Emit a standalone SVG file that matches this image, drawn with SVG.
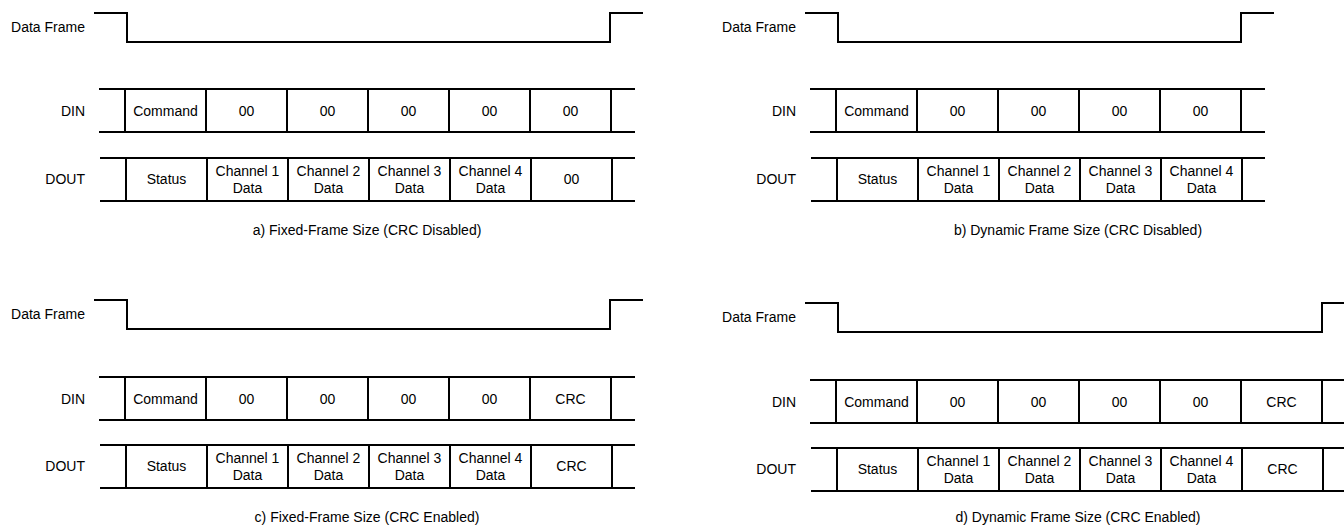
<svg xmlns="http://www.w3.org/2000/svg" width="1344" height="525" viewBox="0 0 1344 525">
<style>
  text { font-family: "Liberation Sans", Arial, sans-serif; font-size: 14px; fill: #000; }
  .c { text-anchor: middle; }
  .r { text-anchor: end; }
  .ln { stroke: #000; stroke-width: 2; fill: none; stroke-linejoin: miter; }
</style>
<rect width="1344" height="525" fill="#fff"/>

<!-- Panel a -->
<g id="panel-a">
  <g id="a-frame">
    <text class="r" x="85" y="32">Data Frame</text>
    <polyline class="ln" points="94,13 127,13 127,42 610,42 610,13 643,13"/>
  </g>
  <g id="a-din">
    <text class="r" x="85" y="116">DIN</text>
    <path class="ln" d="M99,89H635M99,132H635M125,89V132M206,89V132M287,89V132M368,89V132M449,89V132M530,89V132M611,89V132"/>
    <text class="c" x="165.5" y="116">Command</text>
    <text class="c" x="246.5" y="116">00</text>
    <text class="c" x="327.5" y="116">00</text>
    <text class="c" x="408.5" y="116">00</text>
    <text class="c" x="489.5" y="116">00</text>
    <text class="c" x="570.5" y="116">00</text>
  </g>
  <g id="a-dout">
    <text class="r" x="85" y="184">DOUT</text>
    <path class="ln" d="M100,158H635M100,201H635M126,158V201M207,158V201M288,158V201M369,158V201M450,158V201M531,158V201M612,158V201"/>
    <text class="c" x="166.5" y="184">Status</text>
    <text class="c" x="247.5" y="176">Channel 1</text><text class="c" x="247.5" y="193">Data</text>
    <text class="c" x="328.5" y="176">Channel 2</text><text class="c" x="328.5" y="193">Data</text>
    <text class="c" x="409.5" y="176">Channel 3</text><text class="c" x="409.5" y="193">Data</text>
    <text class="c" x="490.5" y="176">Channel 4</text><text class="c" x="490.5" y="193">Data</text>
    <text class="c" x="571.5" y="184">00</text>
  </g>
  <text id="a-caption" class="c" x="367" y="235">a) Fixed-Frame Size (CRC Disabled)</text>
</g>

<!-- Panel b -->
<g id="panel-b">
  <g id="b-frame" transform="translate(711,0)">
    <text class="r" x="85" y="32">Data Frame</text>
    <polyline class="ln" points="94,13 127,13 127,42 530,42 530,13 563,13"/>
  </g>
  <g id="b-din" transform="translate(711,0)">
    <text class="r" x="85" y="116">DIN</text>
    <path class="ln" d="M99,89H554M99,132H554M125,89V132M206,89V132M287,89V132M368,89V132M449,89V132M530,89V132"/>
    <text class="c" x="165.5" y="116">Command</text>
    <text class="c" x="246.5" y="116">00</text>
    <text class="c" x="327.5" y="116">00</text>
    <text class="c" x="408.5" y="116">00</text>
    <text class="c" x="489.5" y="116">00</text>
  </g>
  <g id="b-dout" transform="translate(711,0)">
    <text class="r" x="85" y="184">DOUT</text>
    <path class="ln" d="M100,158H554M100,201H554M126,158V201M207,158V201M288,158V201M369,158V201M450,158V201M531,158V201"/>
    <text class="c" x="166.5" y="184">Status</text>
    <text class="c" x="247.5" y="176">Channel 1</text><text class="c" x="247.5" y="193">Data</text>
    <text class="c" x="328.5" y="176">Channel 2</text><text class="c" x="328.5" y="193">Data</text>
    <text class="c" x="409.5" y="176">Channel 3</text><text class="c" x="409.5" y="193">Data</text>
    <text class="c" x="490.5" y="176">Channel 4</text><text class="c" x="490.5" y="193">Data</text>
  </g>
  <text id="b-caption" class="c" x="1078" y="235">b) Dynamic Frame Size (CRC Disabled)</text>
</g>

<!-- Panel c -->
<g id="panel-c">
  <g id="c-frame" transform="translate(0,287)">
    <text class="r" x="85" y="32">Data Frame</text>
    <polyline class="ln" points="94,13 127,13 127,42 610,42 610,13 643,13"/>
  </g>
  <g id="c-din" transform="translate(0,288)">
    <text class="r" x="85" y="116">DIN</text>
    <path class="ln" d="M99,89H635M99,132H635M125,89V132M206,89V132M287,89V132M368,89V132M449,89V132M530,89V132M611,89V132"/>
    <text class="c" x="165.5" y="116">Command</text>
    <text class="c" x="246.5" y="116">00</text>
    <text class="c" x="327.5" y="116">00</text>
    <text class="c" x="408.5" y="116">00</text>
    <text class="c" x="489.5" y="116">00</text>
    <text class="c" x="570.5" y="116">CRC</text>
  </g>
  <g id="c-dout" transform="translate(0,287)">
    <text class="r" x="85" y="184">DOUT</text>
    <path class="ln" d="M100,158H635M100,201H635M126,158V201M207,158V201M288,158V201M369,158V201M450,158V201M531,158V201M612,158V201"/>
    <text class="c" x="166.5" y="184">Status</text>
    <text class="c" x="247.5" y="176">Channel 1</text><text class="c" x="247.5" y="193">Data</text>
    <text class="c" x="328.5" y="176">Channel 2</text><text class="c" x="328.5" y="193">Data</text>
    <text class="c" x="409.5" y="176">Channel 3</text><text class="c" x="409.5" y="193">Data</text>
    <text class="c" x="490.5" y="176">Channel 4</text><text class="c" x="490.5" y="193">Data</text>
    <text class="c" x="571.5" y="184">CRC</text>
  </g>
  <text id="c-caption" class="c" x="367" y="522">c) Fixed-Frame Size (CRC Enabled)</text>
</g>

<!-- Panel d -->
<g id="panel-d">
  <g id="d-frame" transform="translate(711,290)">
    <text class="r" x="85" y="32">Data Frame</text>
    <polyline class="ln" points="94,13 127,13 127,42 611,42 611,13 645,13"/>
  </g>
  <g id="d-din" transform="translate(711,291)">
    <text class="r" x="85" y="116">DIN</text>
    <path class="ln" d="M99,89H645M99,132H645M125,89V132M206,89V132M287,89V132M368,89V132M449,89V132M530,89V132M611,89V132"/>
    <text class="c" x="165.5" y="116">Command</text>
    <text class="c" x="246.5" y="116">00</text>
    <text class="c" x="327.5" y="116">00</text>
    <text class="c" x="408.5" y="116">00</text>
    <text class="c" x="489.5" y="116">00</text>
    <text class="c" x="570.5" y="116">CRC</text>
  </g>
  <g id="d-dout" transform="translate(711,290)">
    <text class="r" x="85" y="184">DOUT</text>
    <path class="ln" d="M100,158H645M100,201H645M126,158V201M207,158V201M288,158V201M369,158V201M450,158V201M531,158V201M612,158V201"/>
    <text class="c" x="166.5" y="184">Status</text>
    <text class="c" x="247.5" y="176">Channel 1</text><text class="c" x="247.5" y="193">Data</text>
    <text class="c" x="328.5" y="176">Channel 2</text><text class="c" x="328.5" y="193">Data</text>
    <text class="c" x="409.5" y="176">Channel 3</text><text class="c" x="409.5" y="193">Data</text>
    <text class="c" x="490.5" y="176">Channel 4</text><text class="c" x="490.5" y="193">Data</text>
    <text class="c" x="571.5" y="184">CRC</text>
  </g>
  <text id="d-caption" class="c" x="1078" y="522">d) Dynamic Frame Size (CRC Enabled)</text>
</g>

<g id="connectors"></g>
</svg>
